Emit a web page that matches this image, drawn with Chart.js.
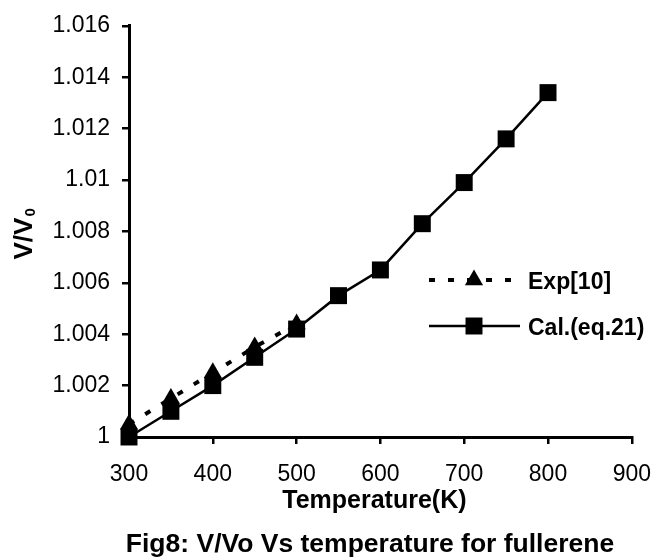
<!DOCTYPE html>
<html>
<head>
<meta charset="utf-8">
<script src="https://cdn.jsdelivr.net/npm/chart.js@4.4.1/dist/chart.umd.min.js"></script>
<style>
  html, body { margin: 0; padding: 0; background: #fff; }
</style>
</head>
<body>
<canvas id="fig8" width="668" height="559"></canvas>
<script>
// values
const temps = [300, 350, 400, 450, 500, 550, 600, 650, 700, 750, 800];
const calValues = [1.0000, 1.0010, 1.0020, 1.0031, 1.0042, 1.0055, 1.0065, 1.0083, 1.0099, 1.0116, 1.0134];
const expTemps = [300, 350, 400, 450, 500];
const expValues = [1.0005, 1.0015, 1.0025, 1.0035, 1.0044];
const xTicks = [300, 400, 500, 600, 700, 800, 900];
const yTicks = [1, 1.002, 1.004, 1.006, 1.008, 1.01, 1.012, 1.014, 1.016];
const yTickLabels = ['1', '1.002', '1.004', '1.006', '1.008', '1.01', '1.012', '1.014', '1.016'];

const FONT = '"Liberation Sans", Arial, sans-serif';

const toPoints = (xs, ys) => xs.map((x, i) => ({ x: x, y: ys[i] }));

// axis titles, caption and the legend inside the plot
const extras = {
    id: 'extras',
    afterDraw(chart) {
        const ctx = chart.ctx;
        const a = chart.chartArea;
        ctx.save();
        ctx.fillStyle = '#000';
        ctx.textBaseline = 'alphabetic';

        ctx.font = 'bold 25px ' + FONT;
        ctx.textAlign = 'center';
        ctx.fillText('Temperature(K)', (a.left + a.right) / 2 - 6, 508);

        ctx.font = 'bold 26.5px ' + FONT;
        ctx.fillText('Fig8: V/Vo Vs temperature for fullerene', 370, 552);

        // V/V0 with a subscript, rotated
        ctx.save();
        ctx.translate(32, (a.top + a.bottom) / 2 + 3);
        ctx.rotate(-Math.PI / 2);
        ctx.textAlign = 'left';
        ctx.font = 'bold 26px ' + FONT;
        const w = ctx.measureText('V/V').width;
        ctx.font = 'bold 15px ' + FONT;
        const w0 = ctx.measureText('0').width;
        const start = -(w + w0) / 2;
        ctx.font = 'bold 26px ' + FONT;
        ctx.fillText('V/V', start, 0);
        ctx.font = 'bold 15px ' + FONT;
        ctx.fillText('0', start + w + 1, 3);
        ctx.restore();

        // legend
        const rows = [280, 326];
        chart.data.datasets.forEach((ds, i) => {
            const y = rows[i];
            ctx.save();
            ctx.strokeStyle = ds.borderColor;
            ctx.lineWidth = ds.borderWidth;
            ctx.setLineDash(ds.borderDash || []);
            ctx.beginPath();
            ctx.moveTo(429, y);
            ctx.lineTo(520, y);
            ctx.stroke();
            ctx.restore();
            ctx.fillStyle = ds.pointBackgroundColor;
            Chart.helpers.drawPoint(ctx, {
                pointStyle: ds.pointStyle,
                radius: ds.pointRadius,
                rotation: 0,
                borderWidth: 0
            }, 474, y);
            ctx.fillStyle = '#000';
            ctx.textAlign = 'left';
            ctx.font = 'bold 23px ' + FONT;
            ctx.fillText(ds.label, 528, y + 9);
        });
        ctx.restore();
    }
};

new Chart(document.getElementById('fig8'), {
    type: 'line',
    data: {
        datasets: [{
            label: 'Exp[10]',
            data: toPoints(expTemps, expValues),
            borderColor: '#000',
            borderWidth: 4,
            borderDash: [6, 13],
            pointStyle: 'triangle',
            pointRadius: 10.5,
            pointBackgroundColor: '#000',
            pointBorderWidth: 0,
            clip: false,
            order: 2
        }, {
            label: 'Cal.(eq.21)',
            data: toPoints(temps, calValues),
            borderColor: '#000',
            borderWidth: 2.5,
            pointStyle: 'rect',
            pointRadius: 12,
            pointBackgroundColor: '#000',
            pointBorderWidth: 0,
            clip: false,
            order: 1
        }]
    },
    options: {
        responsive: false,
        animation: false,
        events: [],
        layout: { padding: { top: 22, right: 35, left: 0, bottom: 0 } },
        plugins: {
            legend: { display: false },
            tooltip: { enabled: false }
        },
        scales: {
            x: {
                type: 'linear',
                min: 300,
                max: 900,
                afterBuildTicks: s => { s.ticks = xTicks.map(v => ({ value: v })); },
                afterFit: s => { s.height = 122; },
                grid: { drawOnChartArea: false, color: '#000', lineWidth: 2.5, tickLength: 7 },
                border: { color: '#000', width: 3 },
                ticks: {
                    color: '#000',
                    font: { family: FONT, size: 23 },
                    padding: 17,
                    maxRotation: 0
                }
            },
            y: {
                type: 'linear',
                min: 1,
                max: 1.016,
                afterBuildTicks: s => { s.ticks = yTicks.map(v => ({ value: v })); },
                afterFit: s => { s.width = 129; },
                grid: { drawOnChartArea: false, color: '#000', lineWidth: 2.5, tickLength: 7 },
                border: { color: '#000', width: 3 },
                ticks: {
                    color: '#000',
                    font: { family: FONT, size: 23 },
                    padding: 12,
                    callback: (v, i) => yTickLabels[i]
                }
            }
        }
    },
    plugins: [extras]
});
</script>
</body>
</html>
